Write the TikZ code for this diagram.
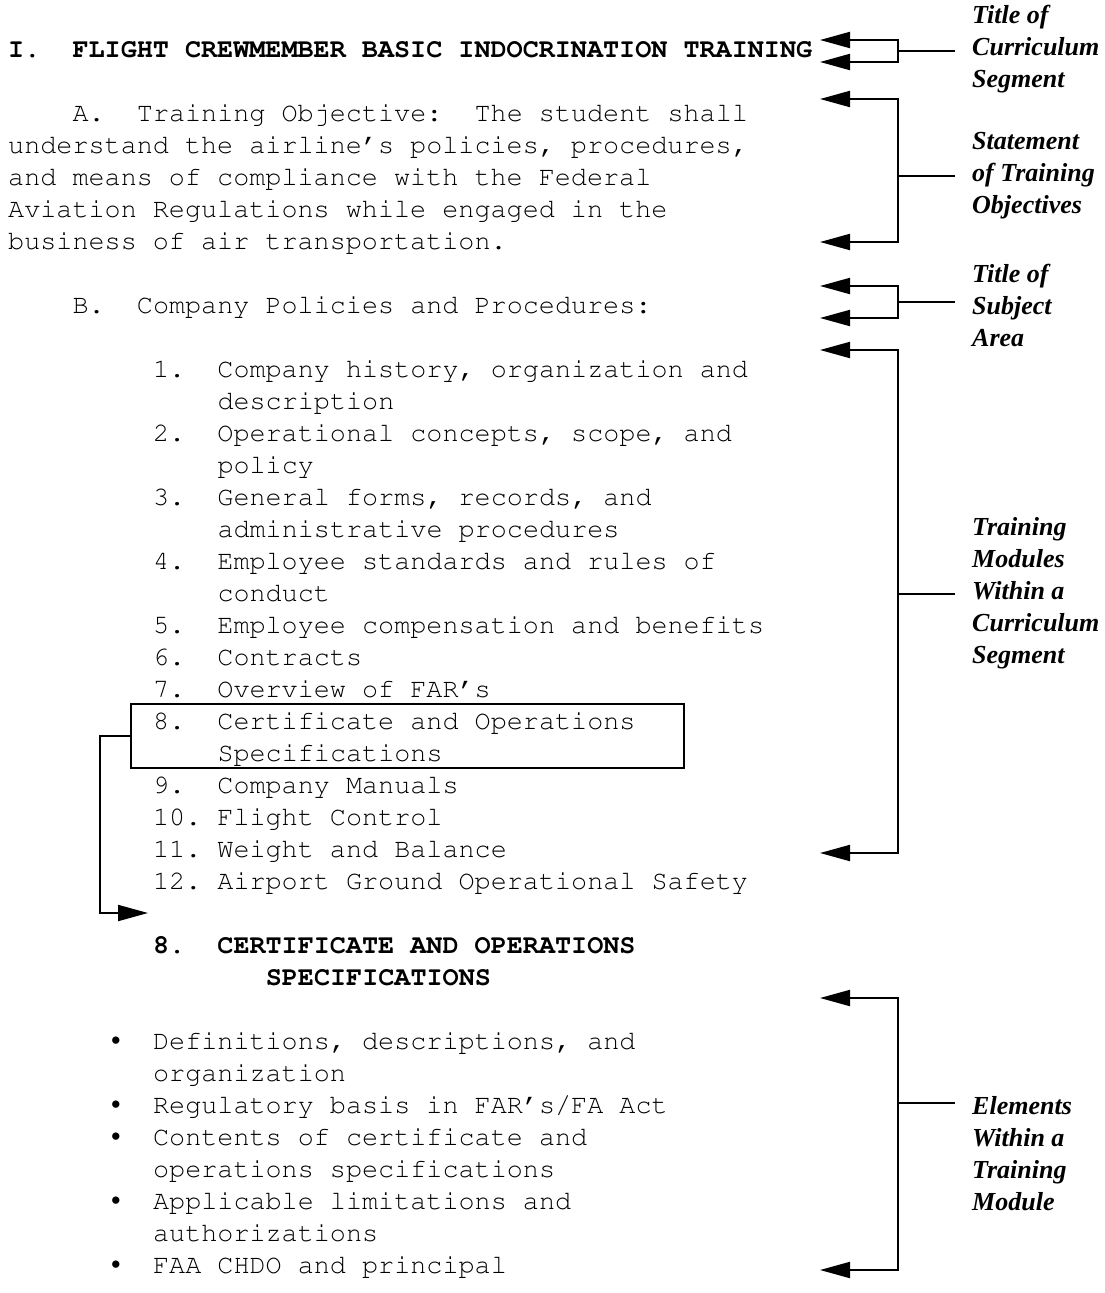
\documentclass[tikz,border=0pt]{standalone}
\usepackage[T1,TU]{fontenc}
\usepackage{fontspec}
\setmainfont{Liberation Serif}
\newfontfamily\bulf{Liberation Mono}
\newcommand\crfont{\fontencoding{T1}\fontfamily{pcr}\fontseries{m}\selectfont}
\newcommand\crbfont{\fontencoding{T1}\fontfamily{pcr}\fontseries{b}\selectfont}
\usetikzlibrary{arrows.meta}
\frenchspacing
\begin{document}
\begin{tikzpicture}[x=1pt,y=-1pt,
  txt/.style={anchor=base west, inner sep=0pt, font=\crfont\fontsize{26.8}{32}\selectfont\frenchspacing},
  btxt/.style={anchor=base west, inner sep=0pt, font=\crbfont\fontsize{26.8}{32}\selectfont\frenchspacing},
  bul/.style={anchor=base, inner sep=0pt, font=\bulf\fontsize{26.8}{32}\selectfont},
  lab/.style={anchor=west, align=left, inner sep=0pt, font=\bfseries\itshape\fontsize{26}{32}\selectfont},
  con/.style={line width=2pt},
  arr/.style={con, -{Triangle[length=30pt,width=16pt]}},
]
\fill[white] (0,0) rectangle (1104,1293);
\useasboundingbox (0,0) rectangle (1104,1293);

% ---- main text ----
\node[btxt] (title) at (8,57) {I.~~FLIGHT CREWMEMBER BASIC INDOCRINATION TRAINING};
\node[txt] (a1) at (72.4,121) {A.~~Training Objective:~~The student shall};
\node[txt] (a2) at (8,153) {understand the airline's policies, procedures,};
\node[txt] (a3) at (8,185) {and means of compliance with the Federal};
\node[txt] (a4) at (8,217) {Aviation Regulations while engaged in the};
\node[txt] (a5) at (8,249) {business of air transportation.};
\node[txt] (b1) at (72.4,313) {B.~~Company Policies and Procedures:};

\node[txt] (i1) at (152.9,377) {1.~~Company history, organization and};
\node[txt] (i1b) at (217.3,409) {description};
\node[txt] (i2) at (152.9,441) {2.~~Operational concepts, scope, and};
\node[txt] (i2b) at (217.3,473) {policy};
\node[txt] (i3) at (152.9,505) {3.~~General forms, records, and};
\node[txt] (i3b) at (217.3,537) {administrative procedures};
\node[txt] (i4) at (152.9,569) {4.~~Employee standards and rules of};
\node[txt] (i4b) at (217.3,601) {conduct};
\node[txt] (i5) at (152.9,633) {5.~~Employee compensation and benefits};
\node[txt] (i6) at (152.9,665) {6.~~Contracts};
\node[txt] (i7) at (152.9,697) {7.~~Overview of FAR's};
\node[txt] (i8) at (152.9,729) {8.~~Certificate and Operations};
\node[txt] (i8b) at (217.3,761) {Specifications};
\node[txt] (i9) at (152.9,793) {9.~~Company Manuals};
\node[txt] (i10) at (152.9,825) {10. Flight Control};
\node[txt] (i11) at (152.9,857) {11. Weight and Balance};
\node[txt] (i12) at (152.9,889) {12. Airport Ground Operational Safety};

\node[draw, line width=1.8pt, minimum width=553pt, minimum height=64pt, inner sep=0pt] (box8) at (407.5,736) {};

\node[btxt] (h8) at (152.9,953) {8.~~CERTIFICATE AND OPERATIONS};
\node[btxt] (h8b) at (265.6,985) {SPECIFICATIONS};

\node[bul] (u1) at (116,1049) {•};
\node[txt] (e1) at (152.9,1049) {Definitions, descriptions, and};
\node[txt] (e1b) at (152.9,1081) {organization};
\node[bul] (u2) at (116,1113) {•};
\node[txt] (e2) at (152.9,1113) {Regulatory basis in FAR's/FA Act};
\node[bul] (u3) at (116,1145) {•};
\node[txt] (e3) at (152.9,1145) {Contents of certificate and};
\node[txt] (e3b) at (152.9,1177) {operations specifications};
\node[bul] (u4) at (116,1209) {•};
\node[txt] (e4) at (152.9,1209) {Applicable limitations and};
\node[txt] (e4b) at (152.9,1241) {authorizations};
\node[bul] (u5) at (116,1273) {•};
\node[txt] (e5) at (152.9,1273) {FAA CHDO and principal};

% ---- box connector ----
\coordinate (t8) at (148,913);
\draw[arr] (box8.west) -- ++(-30,0) |- (t8);

% ---- right-hand labels ----
\node[lab] (lab1) at (972,49) {Title of\\Curriculum\\Segment};
\node[lab] (lab2) at (972,176) {Statement\\of Training\\Objectives};
\node[lab] (lab3) at (972,305) {Title of\\Subject\\Area};
\node[lab] (lab4) at (972,593) {Training\\Modules\\Within a\\Curriculum\\Segment};
\node[lab] (lab5) at (972,1154) {Elements\\Within a\\Training\\Module};

% junctions on the bar
\coordinate (j1) at (898,51);
\coordinate (j2) at (898,176);
\coordinate (j3) at (898,302);
\coordinate (j4) at (898,594);
\coordinate (j5) at (898,1103);
% arrow tips
\coordinate (t1a) at (820,40);   \coordinate (t1b) at (820,62);
\coordinate (t2a) at (820,99);   \coordinate (t2b) at (820,242);
\coordinate (t3a) at (820,286);  \coordinate (t3b) at (820,318);
\coordinate (t4a) at (820,350);  \coordinate (t4b) at (820,853);
\coordinate (t5a) at (820,998);  \coordinate (t5b) at (820,1270);

\foreach \k in {1,...,5}{
  \draw[con] (j\k) -- ++(57,0);
  \draw[arr] (j\k) |- (t\k a);
  \draw[arr] (j\k) |- (t\k b);
}
\end{tikzpicture}
\end{document}
